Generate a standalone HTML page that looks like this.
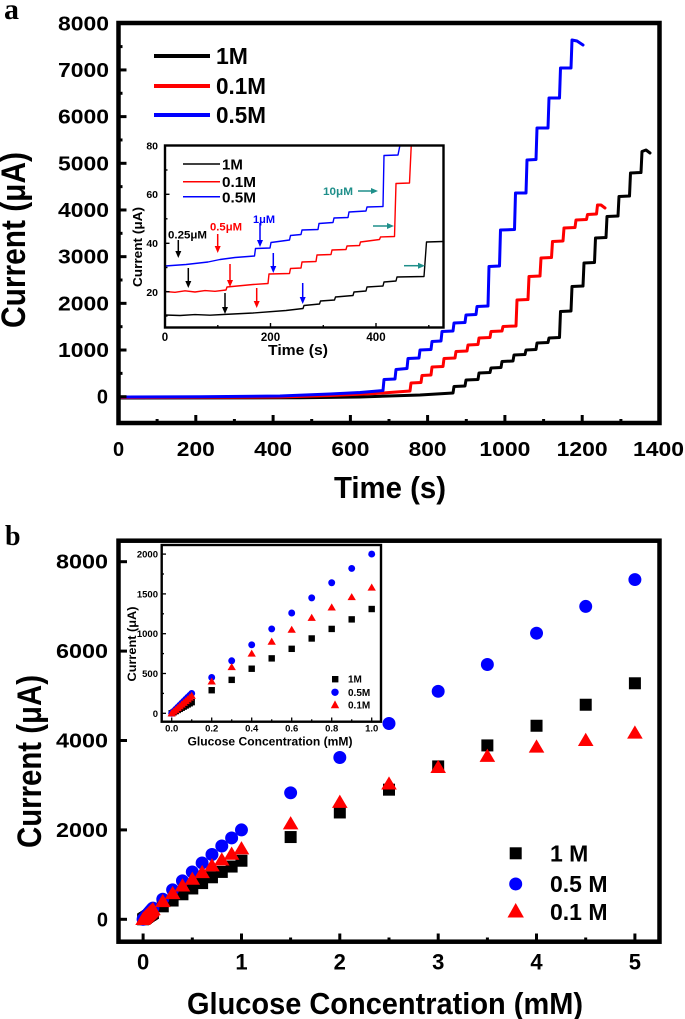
<!DOCTYPE html>
<html><head><meta charset="utf-8">
<style>
html,body{margin:0;padding:0;background:#fff;}
svg{display:block;}
text{font-family:"Liberation Sans",Arial,sans-serif;font-weight:bold;fill:#000;}
.serif{font-family:"Liberation Serif","Times New Roman",serif;}
</style></head><body>
<svg id="s" width="685" height="1019" viewBox="0 0 685 1019" xmlns="http://www.w3.org/2000/svg">
<rect width="685" height="1019" fill="#fff"/>

<!-- ================= PANEL A ================= -->
<text class="serif" x="4" y="19" style="font-size:30px">a</text>

<!-- main curves -->
<g fill="none" stroke-width="3" stroke-linejoin="round" stroke-linecap="round">
<path stroke="#000" d="M119.5,398 L300,397.8 L360,397 L420,395 L453,393 L454,386.5 L465,386 L466,380 L478,379.5 L479,373 L490,372.5 L491,368 L501,367.5 L502,361.5 L513,361 L514,355 L525,354.5 L526,350 L536,349.5 L537,343 L548,342.5 L549,338 L559.5,337.5 L560.5,311.5 L571,311 L572,286.5 L583,286 L584,263 L594.5,262.5 L595.5,238 L606,237.5 L607,216.5 L618,216 L619,196.5 L629.5,196 L630.5,173 L641,172.5 L642,151.5 L646,150 L650,153"/>
<path stroke="#ff0000" d="M119.5,397.5 L280,397 L330,395.5 L375,393.5 L410,391 L411,383 L421,382.5 L422,375.5 L431,375 L432,367 L443,366.5 L444,358.5 L455,358 L456,351.5 L467,351 L468,345 L478,344.5 L479,338 L490,337.5 L491,331.5 L502,331 L503,326.5 L516,326 L517,300 L528,299.5 L529,276.5 L540,276 L541,258 L551.5,257.5 L552.5,241.5 L563,241 L564,228 L575,227.5 L576,220 L586.5,219.5 L587.5,214.5 L596.5,214 L597.5,205 L601,205 L605,208"/>
<path stroke="#0000ff" d="M119.5,397 L200,396.8 L280,396 L330,394 L360,392.5 L383,390.5 L384,379.5 L395,379 L396,369.5 L407,368.5 L408,358.5 L419,358 L420,350 L431,349.5 L432,341.5 L441,341 L442,331.5 L453,331 L454,323 L465,322.5 L466,315 L476,314.5 L477,306.5 L488,306 L489,266.5 L499.5,266 L500.5,230 L514.5,229.5 L515.5,193 L526,193 L527,160 L536,159.5 L537,128 L548,128 L549,98 L559.5,98 L560.5,68 L571,68 L572,40 L577,41 L583,45"/>
</g>

<!-- main legend -->
<g stroke-width="4">
<line x1="154" y1="56" x2="210" y2="56" stroke="#000"/>
<line x1="154" y1="86" x2="210" y2="86" stroke="#ff0000"/>
<line x1="154" y1="115" x2="210" y2="115" stroke="#0000ff"/>
</g>
<text x="216" y="64" style="font-size:23px">1M</text>
<text x="216" y="94" style="font-size:23px" textLength="50" lengthAdjust="spacingAndGlyphs">0.1M</text>
<text x="216" y="123" style="font-size:23px" textLength="50" lengthAdjust="spacingAndGlyphs">0.5M</text>

<!-- inset a -->
<rect x="165" y="145.5" width="278.5" height="182" fill="#fff"/>
<svg x="165" y="145.5" width="278.5" height="182" viewBox="165 145.5 278.5 182" overflow="hidden">
<g fill="none" stroke-width="1.4" stroke-linejoin="round">
<path stroke="#000" d="M165,315 L180,315.5 L195,314.6 L210,315.2 L223,314.5 L253,313 L286,310.5 L303,308.5 L304,305.5 L319.5,304 L320.5,301 L334.5,300 L335.5,297 L353,295.5 L354,292 L366,291 L367,287 L383,286 L384,282 L396,281 L397,277 L424,276.5 L426.5,242 L443,241.5"/>
<path stroke="#ff0000" d="M165,291.5 L175,292.3 L185,290.8 L195,292 L205,290.6 L215,291.3 L226,290 L227,287 L253,284.5 L268,283.5 L269,274 L289.5,273.5 L290.5,268.5 L301,268 L302,262 L316,261.5 L317,255 L331,254.5 L332,250 L346,249.5 L347,246 L359.5,245.5 L360.5,242 L379.5,239.5 L380.5,237 L394.5,236.5 L396,183.5 L409.5,183 L411.5,140"/>
<path stroke="#0000ff" d="M165,266 L186,264.5 L208,262 L220,259.5 L235,257.5 L254.5,256 L255.5,248.5 L270,248 L271,242.5 L289.5,240 L290.5,235.5 L301,234.5 L302,230 L318,229.5 L319,223.5 L333,222.5 L334,218 L348,217.5 L349,212 L366,211 L367,207 L383,206.5 L384,155.5 L398,155 L401,140"/>
</g>
</svg>
<rect x="165" y="145.5" width="278.5" height="182" fill="none" stroke="#000" stroke-width="2.4"/>
<!-- inset a ticks -->
<g stroke="#000" stroke-width="1.4">
<line x1="165" y1="194.3" x2="169.5" y2="194.3"/><line x1="165" y1="243.3" x2="169.5" y2="243.3"/><line x1="165" y1="291.7" x2="169.5" y2="291.7"/>
<line x1="165" y1="170" x2="167.5" y2="170"/><line x1="165" y1="218.8" x2="167.5" y2="218.8"/><line x1="165" y1="267.5" x2="167.5" y2="267.5"/><line x1="165" y1="316" x2="167.5" y2="316"/>
<line x1="270.5" y1="327.5" x2="270.5" y2="323"/><line x1="376" y1="327.5" x2="376" y2="323"/>
<line x1="217.8" y1="327.5" x2="217.8" y2="325"/><line x1="323.3" y1="327.5" x2="323.3" y2="325"/><line x1="428.8" y1="327.5" x2="428.8" y2="325"/>
</g>
<g style="font-size:10.5px" text-anchor="end">
<text x="158" y="149.5">80</text><text x="158" y="198">60</text><text x="158" y="247">40</text><text x="158" y="296">20</text>
</g>
<g style="font-size:11.5px" text-anchor="middle">
<text x="165" y="341">0</text><text x="270.5" y="341">200</text><text x="376" y="341">400</text>
</g>
<text x="298" y="355" text-anchor="middle" style="font-size:15px" textLength="60" lengthAdjust="spacingAndGlyphs">Time (s)</text>
<text transform="translate(142,247) rotate(-90)" text-anchor="middle" style="font-size:13px" textLength="80" lengthAdjust="spacingAndGlyphs">Current (μA)</text>
<!-- inset legend -->
<g stroke-width="1.5">
<line x1="183" y1="164" x2="220" y2="164" stroke="#000"/>
<line x1="183" y1="181.7" x2="220" y2="181.7" stroke="#ff0000"/>
<line x1="183" y1="196.7" x2="220" y2="196.7" stroke="#0000ff"/>
</g>
<text x="222" y="169.5" style="font-size:15px">1M</text>
<text x="222" y="187" style="font-size:15px" textLength="34" lengthAdjust="spacingAndGlyphs">0.1M</text>
<text x="222" y="202.5" style="font-size:15px" textLength="34" lengthAdjust="spacingAndGlyphs">0.5M</text>
<!-- annotations -->
<text x="168" y="238.5" style="font-size:11px;fill:#000" textLength="39" lengthAdjust="spacingAndGlyphs">0.25μM</text>
<text x="210" y="230.5" style="font-size:11px;fill:#ff0000" textLength="32" lengthAdjust="spacingAndGlyphs">0.5μM</text>
<text x="253" y="223" style="font-size:11px;fill:#0000ff" textLength="22" lengthAdjust="spacingAndGlyphs">1μM</text>
<text x="323" y="195" style="font-size:11px;fill:#1f8f8a" textLength="30" lengthAdjust="spacingAndGlyphs">10μM</text>
<!-- arrows -->
<g stroke-width="1.5">
<g stroke="#000" fill="#000">
<line x1="178.3" y1="240" x2="178.3" y2="253"/><polygon stroke="none" points="175.3,251 181.3,251 178.3,258"/>
<line x1="188.3" y1="268" x2="188.3" y2="283"/><polygon stroke="none" points="185.3,281 191.3,281 188.3,288"/>
<line x1="225" y1="293" x2="225" y2="309"/><polygon stroke="none" points="222,307 228,307 225,314"/>
</g>
<g stroke="#ff0000" fill="#ff0000">
<line x1="217.7" y1="234" x2="217.7" y2="248"/><polygon stroke="none" points="214.7,246 220.7,246 217.7,253"/>
<line x1="230" y1="264" x2="230" y2="282"/><polygon stroke="none" points="227,280 233,280 230,287"/>
<line x1="256.7" y1="288" x2="256.7" y2="303"/><polygon stroke="none" points="253.7,301 259.7,301 256.7,308"/>
</g>
<g stroke="#0000ff" fill="#0000ff">
<line x1="260" y1="223" x2="260" y2="242"/><polygon stroke="none" points="257,240 263,240 260,247"/>
<line x1="273.3" y1="253" x2="273.3" y2="268"/><polygon stroke="none" points="270.3,266 276.3,266 273.3,273"/>
<line x1="302.7" y1="283" x2="302.7" y2="299"/><polygon stroke="none" points="299.7,297 305.7,297 302.7,304"/>
</g>
<g stroke="#1f8f8a" fill="#1f8f8a">
<line x1="358" y1="191" x2="373" y2="191"/><polygon stroke="none" points="371,188 371,194 378,191"/>
<line x1="373" y1="226" x2="389" y2="226"/><polygon stroke="none" points="387,223 387,229 394,226"/>
<line x1="404" y1="265.7" x2="420" y2="265.7"/><polygon stroke="none" points="418,262.7 418,268.7 425,265.7"/>
</g>
</g>

<!-- main axes a -->
<rect x="118.5" y="23" width="541" height="400" fill="none" stroke="#000" stroke-width="4.5"/>
<g stroke="#000" stroke-width="3">
<line x1="118.5" y1="396.7" x2="126.5" y2="396.7"/><line x1="118.5" y1="350.02" x2="126.5" y2="350.02"/><line x1="118.5" y1="303.34" x2="126.5" y2="303.34"/><line x1="118.5" y1="256.66" x2="126.5" y2="256.66"/><line x1="118.5" y1="209.98" x2="126.5" y2="209.98"/><line x1="118.5" y1="163.3" x2="126.5" y2="163.3"/><line x1="118.5" y1="116.62" x2="126.5" y2="116.62"/><line x1="118.5" y1="69.94" x2="126.5" y2="69.94"/>
<line x1="118.5" y1="373.36" x2="122.5" y2="373.36"/><line x1="118.5" y1="326.68" x2="122.5" y2="326.68"/><line x1="118.5" y1="280" x2="122.5" y2="280"/><line x1="118.5" y1="233.32" x2="122.5" y2="233.32"/><line x1="118.5" y1="186.64" x2="122.5" y2="186.64"/><line x1="118.5" y1="139.96" x2="122.5" y2="139.96"/><line x1="118.5" y1="93.28" x2="122.5" y2="93.28"/><line x1="118.5" y1="46.6" x2="122.5" y2="46.6"/>
<line x1="195.8" y1="423" x2="195.8" y2="415"/><line x1="273.1" y1="423" x2="273.1" y2="415"/><line x1="350.4" y1="423" x2="350.4" y2="415"/><line x1="427.6" y1="423" x2="427.6" y2="415"/><line x1="504.9" y1="423" x2="504.9" y2="415"/><line x1="582.2" y1="423" x2="582.2" y2="415"/>
<line x1="157.1" y1="423" x2="157.1" y2="419"/><line x1="234.4" y1="423" x2="234.4" y2="419"/><line x1="311.7" y1="423" x2="311.7" y2="419"/><line x1="389" y1="423" x2="389" y2="419"/><line x1="466.3" y1="423" x2="466.3" y2="419"/><line x1="543.6" y1="423" x2="543.6" y2="419"/><line x1="620.9" y1="423" x2="620.9" y2="419"/>
</g>
<g style="font-size:20px" text-anchor="end">
<text x="109" y="30.3" textLength="51" lengthAdjust="spacingAndGlyphs">8000</text>
<text x="109" y="76.9" textLength="51" lengthAdjust="spacingAndGlyphs">7000</text>
<text x="109" y="123.6" textLength="51" lengthAdjust="spacingAndGlyphs">6000</text>
<text x="109" y="170.3" textLength="51" lengthAdjust="spacingAndGlyphs">5000</text>
<text x="109" y="217" textLength="51" lengthAdjust="spacingAndGlyphs">4000</text>
<text x="109" y="263.7" textLength="51" lengthAdjust="spacingAndGlyphs">3000</text>
<text x="109" y="310.3" textLength="51" lengthAdjust="spacingAndGlyphs">2000</text>
<text x="109" y="357" textLength="51" lengthAdjust="spacingAndGlyphs">1000</text>
<text x="108" y="403.7">0</text>
</g>
<g style="font-size:20px" text-anchor="middle">
<text x="118.5" y="456">0</text>
<text x="195.8" y="456" textLength="38" lengthAdjust="spacingAndGlyphs">200</text>
<text x="273.1" y="456" textLength="38" lengthAdjust="spacingAndGlyphs">400</text>
<text x="350.4" y="456" textLength="38" lengthAdjust="spacingAndGlyphs">600</text>
<text x="427.6" y="456" textLength="38" lengthAdjust="spacingAndGlyphs">800</text>
<text x="504.9" y="456" textLength="51" lengthAdjust="spacingAndGlyphs">1000</text>
<text x="582.2" y="456" textLength="51" lengthAdjust="spacingAndGlyphs">1200</text>
<text x="658.5" y="456" textLength="51" lengthAdjust="spacingAndGlyphs">1400</text>
</g>
<text x="390" y="498" text-anchor="middle" style="font-size:31px" textLength="112" lengthAdjust="spacingAndGlyphs">Time (s)</text>
<text transform="translate(25,240) rotate(-90)" text-anchor="middle" style="font-size:34px" textLength="176" lengthAdjust="spacingAndGlyphs">Current (μA)</text>

<!-- ================= PANEL B ================= -->
<text class="serif" x="5" y="545" style="font-size:28px">b</text>

<g id="mainb"></g>

<!-- inset b -->
<rect x="161.7" y="545" width="219.3" height="176.7" fill="#fff" stroke="#000" stroke-width="2.4"/>
<g id="insetb"></g>
<g stroke="#000" stroke-width="1.3">
<line x1="161.7" y1="713.3" x2="166" y2="713.3"/><line x1="161.7" y1="673.5" x2="166" y2="673.5"/><line x1="161.7" y1="633.7" x2="166" y2="633.7"/><line x1="161.7" y1="593.9" x2="166" y2="593.9"/><line x1="161.7" y1="554.1" x2="166" y2="554.1"/>
<line x1="161.7" y1="693.4" x2="164" y2="693.4"/><line x1="161.7" y1="653.6" x2="164" y2="653.6"/><line x1="161.7" y1="613.8" x2="164" y2="613.8"/><line x1="161.7" y1="574" x2="164" y2="574"/>
<line x1="171.7" y1="721.7" x2="171.7" y2="717.5"/><line x1="211.7" y1="721.7" x2="211.7" y2="717.5"/><line x1="251.7" y1="721.7" x2="251.7" y2="717.5"/><line x1="291.7" y1="721.7" x2="291.7" y2="717.5"/><line x1="331.7" y1="721.7" x2="331.7" y2="717.5"/><line x1="371.7" y1="721.7" x2="371.7" y2="717.5"/>
<line x1="191.7" y1="721.7" x2="191.7" y2="719.3"/><line x1="231.7" y1="721.7" x2="231.7" y2="719.3"/><line x1="271.7" y1="721.7" x2="271.7" y2="719.3"/><line x1="311.7" y1="721.7" x2="311.7" y2="719.3"/><line x1="351.7" y1="721.7" x2="351.7" y2="719.3"/>
</g>
<g style="font-size:9.5px" text-anchor="end">
<text x="158" y="557.6">2000</text><text x="158" y="597.4">1500</text><text x="158" y="637.2">1000</text><text x="158" y="677">500</text><text x="158" y="716.8">0</text>
</g>
<g style="font-size:9.5px" text-anchor="middle">
<text x="171.7" y="731.5">0.0</text><text x="211.7" y="731.5">0.2</text><text x="251.7" y="731.5">0.4</text><text x="291.7" y="731.5">0.6</text><text x="331.7" y="731.5">0.8</text><text x="371.7" y="731.5">1.0</text>
</g>
<text x="270" y="745.5" text-anchor="middle" style="font-size:12px" textLength="165" lengthAdjust="spacingAndGlyphs">Glucose Concentration (mM)</text>
<text transform="translate(136,644) rotate(-90)" text-anchor="middle" style="font-size:12px" textLength="75" lengthAdjust="spacingAndGlyphs">Current (μA)</text>
<rect x="332" y="676" width="6.4" height="6.4" fill="#000"/>
<circle cx="335" cy="692.3" r="3.7" fill="#0000ff"/>
<polygon points="335,700.4 330.8,708.2 339.2,708.2" fill="#ff0000"/>
<text x="348" y="682.5" style="font-size:10px">1M</text>
<text x="348" y="696" style="font-size:10px">0.5M</text>
<text x="348" y="708.7" style="font-size:10px">0.1M</text>

<!-- main axes b -->
<rect x="118.5" y="540.7" width="541" height="401" fill="none" stroke="#000" stroke-width="4.5"/>
<g stroke="#000" stroke-width="3">
<line x1="118.5" y1="919.3" x2="127" y2="919.3"/><line x1="118.5" y1="829.9" x2="127" y2="829.9"/><line x1="118.5" y1="740.5" x2="127" y2="740.5"/><line x1="118.5" y1="651.1" x2="127" y2="651.1"/><line x1="118.5" y1="561.7" x2="127" y2="561.7"/>
<line x1="143.1" y1="941.7" x2="143.1" y2="933.5"/><line x1="241.5" y1="941.7" x2="241.5" y2="933.5"/><line x1="339.8" y1="941.7" x2="339.8" y2="933.5"/><line x1="438.2" y1="941.7" x2="438.2" y2="933.5"/><line x1="536.5" y1="941.7" x2="536.5" y2="933.5"/><line x1="634.9" y1="941.7" x2="634.9" y2="933.5"/>
<line x1="192.3" y1="941.7" x2="192.3" y2="937.5"/><line x1="290.6" y1="941.7" x2="290.6" y2="937.5"/><line x1="389" y1="941.7" x2="389" y2="937.5"/><line x1="487.4" y1="941.7" x2="487.4" y2="937.5"/><line x1="585.7" y1="941.7" x2="585.7" y2="937.5"/>
</g>
<g style="font-size:20px" text-anchor="end">
<text x="108" y="926.3">0</text>
<text x="108" y="836.9" textLength="52" lengthAdjust="spacingAndGlyphs">2000</text>
<text x="108" y="747.5" textLength="52" lengthAdjust="spacingAndGlyphs">4000</text>
<text x="108" y="658.1" textLength="52" lengthAdjust="spacingAndGlyphs">6000</text>
<text x="108" y="568.7" textLength="52" lengthAdjust="spacingAndGlyphs">8000</text>
</g>
<g style="font-size:22px" text-anchor="middle">
<text x="143.1" y="969.5">0</text><text x="241.5" y="969.5">1</text><text x="339.8" y="969.5">2</text><text x="438.2" y="969.5">3</text><text x="536.5" y="969.5">4</text><text x="634.9" y="969.5">5</text>
</g>
<text x="385" y="1014" text-anchor="middle" style="font-size:31px" textLength="396" lengthAdjust="spacingAndGlyphs">Glucose Concentration (mM)</text>
<text transform="translate(41,761.5) rotate(-90)" text-anchor="middle" style="font-size:34px" textLength="173" lengthAdjust="spacingAndGlyphs">Current (μA)</text>

<!-- legend b -->
<rect x="509.7" y="847.3" width="12" height="12" fill="#000"/>
<circle cx="515.7" cy="884" r="6.5" fill="#0000ff"/>
<polygon points="515.7,903 507.5,917.5 523.9,917.5" fill="#ff0000"/>
<text x="550" y="861.5" style="font-size:23px">1 M</text>
<text x="550" y="892.2" style="font-size:23px">0.5 M</text>
<text x="550" y="920" style="font-size:23px">0.1 M</text>
</svg>
<script>
(function(){
var NS='http://www.w3.org/2000/svg';
function add(g,tag,a){var e=document.createElementNS(NS,tag);for(var k in a)e.setAttribute(k,a[k]);g.appendChild(e);}
var low=[0,0.01,0.02,0.03,0.04,0.05,0.06,0.07,0.08,0.09,0.1];
var mid=[0.2,0.3,0.4,0.5,0.6,0.7,0.8,0.9,1.0];
var hi=[1.5,2,2.5,3,3.5,4,4.5,5];
var series=[
 {c:'#000',t:'s',v01:140,mid:[290,420,560,690,810,940,1060,1180,1310],hi:[1840,2390,2900,3420,3890,4330,4800,5280]},
 {c:'#0000ff',t:'c',v01:250,mid:[450,660,860,1060,1260,1450,1640,1820,2000],hi:[2830,3620,4380,5100,5700,6400,7000,7600]},
 {c:'#ff0000',t:'t',v01:220,mid:[400,580,750,900,1050,1200,1330,1460,1580],hi:[2140,2620,3030,3400,3650,3856,4005,4170]}
];
function mark(g,t,x,y,sz,c){
 if(t==='s')add(g,'rect',{x:x-sz,y:y-sz,width:2*sz,height:2*sz,fill:c});
 else if(t==='c')add(g,'circle',{cx:x,cy:y,r:sz*1.08,fill:c});
 else add(g,'polygon',{points:x+','+(y-sz*1.25)+' '+(x-sz*1.3)+','+(y+sz*0.95)+' '+(x+sz*1.3)+','+(y+sz*0.95),fill:c});
}
var gm=document.getElementById('mainb'), gi=document.getElementById('insetb');
function mx(c){return 143.1+c*98.36;} function my(v){return 919.3-v*0.0447;}
function ix(c){return 171.7+c*200;} function iy(v){return 713.3-v*0.0796;}
series.forEach(function(s){
 var pts=[];
 low.forEach(function(c){pts.push([c,s.v01*c/0.1]);});
 mid.forEach(function(c,i){pts.push([c,s.mid[i]]);});
 pts.forEach(function(p){mark(gi,s.t,ix(p[0]),iy(p[1]),3.2,s.c);});
 hi.forEach(function(c,i){pts.push([c,s.hi[i]]);});
 pts.forEach(function(p){mark(gm,s.t,mx(p[0]),my(p[1]),6,s.c);});
});
})();
</script>
</body></html>
